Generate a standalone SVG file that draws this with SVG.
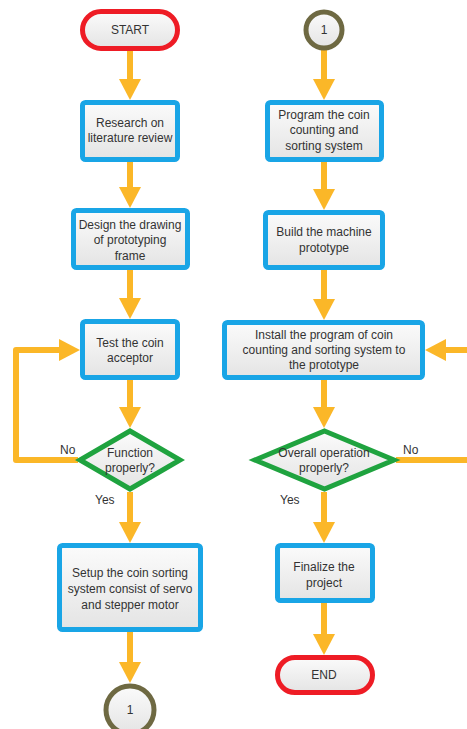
<svg xmlns="http://www.w3.org/2000/svg" width="467" height="729" viewBox="0 0 467 729">
<defs>
<linearGradient id="g" x1="0" y1="0" x2="0" y2="1"><stop offset="0" stop-color="#fbfbfb"/><stop offset="1" stop-color="#e4e4e4"/></linearGradient>
<marker id="ah" markerUnits="userSpaceOnUse" markerWidth="22" markerHeight="22" refX="0" refY="11" orient="auto" viewBox="0 0 22 22"><path d="M0,0 L21,11 L0,22 z" fill="#FBB728"/></marker>
<style>
.box{fill:url(#g);stroke:#19A5E6;stroke-width:5}
.term{fill:url(#g);stroke:#EE1C25;stroke-width:5}
.dec{fill:url(#g);stroke:#1FA33F;stroke-width:5;stroke-linejoin:miter}
.con{fill:url(#g);stroke:#6E6942;stroke-width:5}
.e{fill:none;stroke:#FBB728;stroke-width:6;stroke-linejoin:round;marker-end:url(#ah)}
text{font-family:"Liberation Sans",Arial,sans-serif;font-size:12px;fill:#333;text-anchor:middle}
.l{text-anchor:start}
</style>
</defs>
<g id="connectors">
<path class="e" d="M130,51 V79"/>
<path class="e" d="M130,162 V187"/>
<path class="e" d="M130,270 V298"/>
<path class="e" d="M130,380 V407"/>
<path class="e" d="M78,460 H16 V350 H59"/>
<path class="e" d="M130,492 V522"/>
<path class="e" d="M130,632 V662"/>
<path class="e" d="M324,50 V79"/>
<path class="e" d="M324,162 V189"/>
<path class="e" d="M324,270 V299"/>
<path class="e" d="M324,380 V407"/>
<path class="e" d="M396,460 H476 V350 H446"/>
<path class="e" d="M324,492 V522"/>
<path class="e" d="M324,603 V634"/>
<text class="l" x="60" y="454">No</text>
<text class="l" x="95" y="504">Yes</text>
<text class="l" x="403" y="454">No</text>
<text class="l" x="280" y="504">Yes</text>
</g>
<g id="start"><rect class="term" x="82.5" y="11.5" width="95" height="37" rx="18.5"/><text x="130" y="34">START</text></g>
<g id="research"><rect class="box" x="82.5" y="102.5" width="95" height="57" rx="3"/><text x="130" y="127">Research on</text><text x="130" y="142">literature review</text></g>
<g id="design"><rect class="box" x="73.5" y="210.5" width="114" height="57" rx="3"/><text x="130" y="229">Design the drawing</text><text x="130" y="244">of prototyping</text><text x="130" y="260">frame</text></g>
<g id="test"><rect class="box" x="82.5" y="321.5" width="95" height="56" rx="3"/><text x="130" y="347">Test the coin</text><text x="130" y="362">acceptor</text></g>
<g id="function"><polygon class="dec" points="130,431 180,460 130,489 80,460"/><text x="130" y="457">Function</text><text x="130" y="472">properly?</text></g>
<g id="setup"><rect class="box" x="59.5" y="545.5" width="141" height="84" rx="3"/><text x="130" y="577">Setup the coin sorting</text><text x="130" y="593">system consist of servo</text><text x="130" y="609">and stepper motor</text></g>
<g id="conn1a"><circle class="con" cx="130" cy="710" r="24"/><text x="130" y="714">1</text></g>
<g id="conn1b"><circle class="con" cx="324" cy="30" r="18"/><text x="324" y="34">1</text></g>
<g id="program"><rect class="box" x="267.5" y="102.5" width="114" height="57" rx="3"/><text x="324" y="119">Program the coin</text><text x="324" y="134">counting and</text><text x="324" y="150">sorting system</text></g>
<g id="build"><rect class="box" x="265.5" y="212.5" width="117" height="55" rx="3"/><text x="324" y="236">Build the machine</text><text x="324" y="252">prototype</text></g>
<g id="install"><rect class="box" x="224.5" y="322.5" width="198" height="55" rx="3"/><text x="324" y="339">Install the program of coin</text><text x="324" y="354">counting and sorting system to</text><text x="324" y="369">the prototype</text></g>
<g id="overall"><polygon class="dec" points="324.5,431 394,460 324.5,489 255,460"/><text x="324" y="457">Overall operation</text><text x="324" y="472">properly?</text></g>
<g id="finalize"><rect class="box" x="277.5" y="545.5" width="95" height="55" rx="3"/><text x="324" y="571">Finalize the</text><text x="324" y="587">project</text></g>
<g id="end"><rect class="term" x="277.5" y="657.5" width="95" height="35" rx="17.5"/><text x="324" y="679">END</text></g>
</svg>
